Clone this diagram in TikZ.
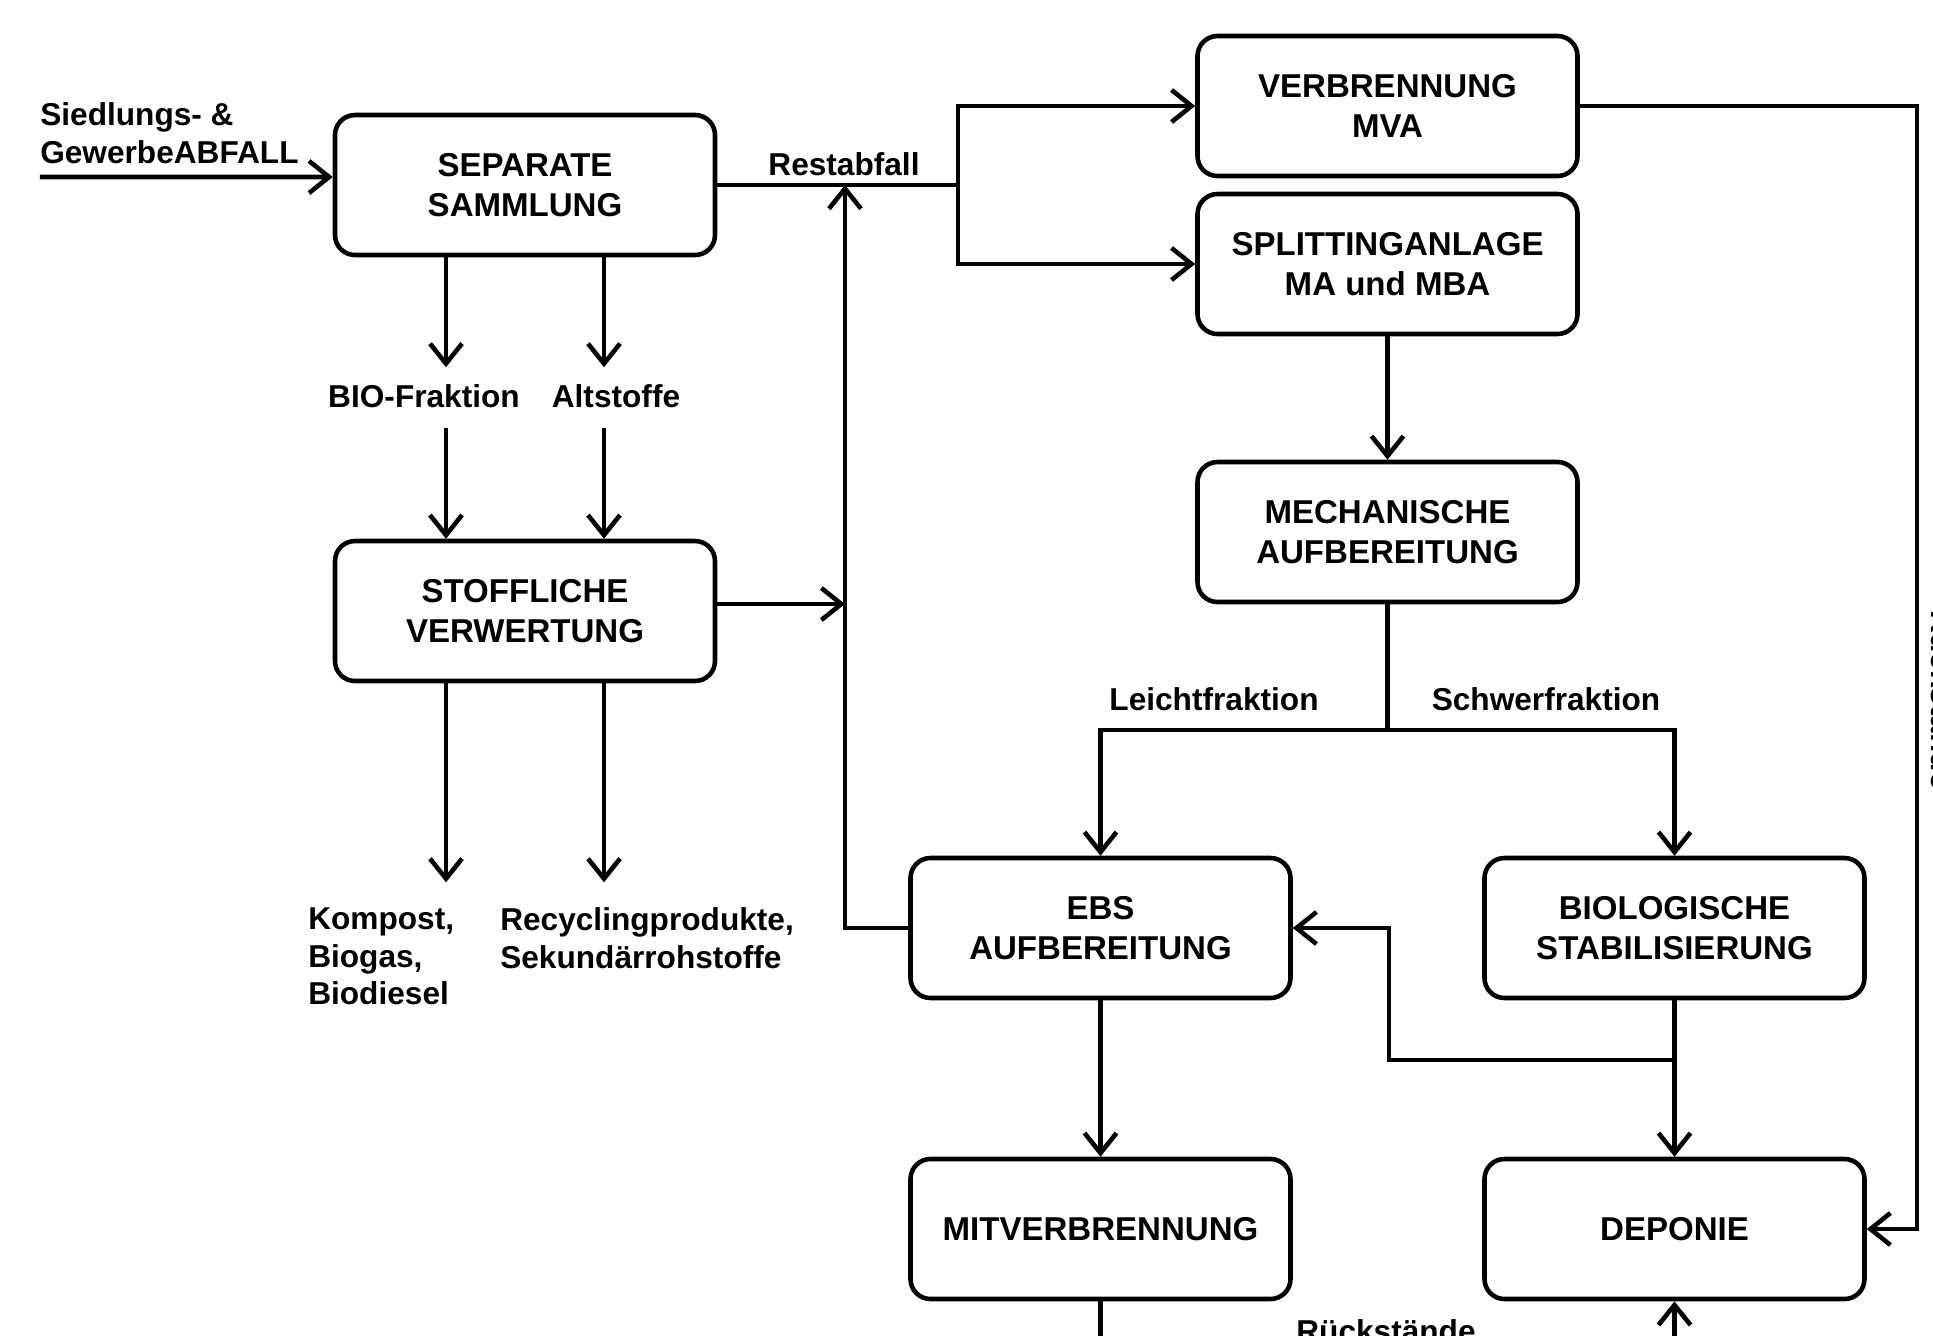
\documentclass[tikz,border=0pt]{standalone}
\usepackage{fontspec}
\setmainfont{Liberation Sans}
\usetikzlibrary{arrows.meta}

\begin{document}
\begin{tikzpicture}[>={Straight Barb[length=2mm,width=3.2mm]},line width=1.3pt,
  box/.style={draw,rounded corners=2mm,minimum width=3.8cm,minimum height=1.4cm,align=center,inner sep=0pt,font=\bfseries\fontsize{9.4}{11.4}\selectfont},
  lbl/.style={inner sep=0pt,font=\bfseries\fontsize{9}{10.8}\selectfont}]
\useasboundingbox (0,0) rectangle (19.33,-13.35);
\node[box] (sep) at (5.25,-1.85) {SEPARATE\\SAMMLUNG};
\node[box] (stoff) at (5.25,-6.11) {STOFFLICHE\\VERWERTUNG};
\node[box] (mva) at (13.875,-1.06) {VERBRENNUNG\\MVA};
\node[box] (split) at (13.875,-2.64) {SPLITTINGANLAGE\\MA und MBA};
\node[box] (mech) at (13.875,-5.32) {MECHANISCHE\\AUFBEREITUNG};
\node[box] (ebs) at (11.005,-9.28) {EBS\\AUFBEREITUNG};
\node[box] (bio) at (16.745,-9.28) {BIOLOGISCHE\\STABILISIERUNG};
\node[box] (mit) at (11.005,-12.29) {MITVERBRENNUNG};
\node[box] (dep) at (16.745,-12.29) {DEPONIE};
\node[lbl,align=left,anchor=north west] (inlbl) at (0.38,-1.00) {Siedlungs- \&\\GewerbeABFALL};
\node[lbl,anchor=base] (rest) at (8.44,-1.75) {Restabfall};
\node[lbl,anchor=base] (biofr) at (4.24,-4.07) {BIO-Fraktion};
\node[lbl,anchor=base] (alt) at (6.16,-4.07) {Altstoffe};
\node[lbl,align=left,anchor=north west] (kompost) at (3.06,-9.05) {Kompost,\\Biogas,\\Biodiesel};
\node[lbl,align=left,anchor=north west] (recyc) at (4.98,-9.05) {Recyclingprodukte,\\Sekundärrohstoffe};
\node[lbl,anchor=base] (leicht) at (12.14,-7.10) {Leichtfraktion};
\node[lbl,anchor=base] (schwer) at (15.46,-7.10) {Schwerfraktion};
\node[lbl,anchor=base] (rueck) at (13.86,-13.42) {Rückstände};
\node[lbl,anchor=base,rotate=-90] (rueckr) at (19.31,-7.00) {Rückstände};
\coordinate (in) at (0.40,-1.77);
\coordinate (rj) at (9.58,-1.85);
\coordinate (rv) at (8.45,-1.85);
\coordinate (rc) at (19.17,0);
\coordinate (fork) at (13.875,-7.30);
\coordinate (br) at (16.745,-10.60);
\draw[->] (in) -- ([yshift=0.08cm]sep.west);
\draw (sep.east) -- (rj);
\draw[->] (rj) |- (mva.west);
\draw[->] (rj) |- (split.west);
\draw[->] ([xshift=-0.79cm]sep.south) -- ++(0,-1.10);
\draw[->] ([xshift=0.79cm]sep.south) -- ++(0,-1.10);
\draw[->] ([xshift=-0.79cm]stoff.north) ++(0,1.11) -- ([xshift=-0.79cm]stoff.north);
\draw[->] ([xshift=0.79cm]stoff.north) ++(0,1.11) -- ([xshift=0.79cm]stoff.north);
\draw[->] ([xshift=-0.79cm]stoff.south) -- ++(0,-1.99);
\draw[->] ([xshift=0.79cm]stoff.south) -- ++(0,-1.99);
\draw[->] ([yshift=0.07cm]stoff.east) -- ([yshift=0.07cm]stoff.east -| rv);
\draw[->] (ebs.west) -| (rv);
\draw[->] (split.south) -- (mech.north);
\draw (mech.south) -- (fork);
\draw[->] (fork) -| (ebs.north);
\draw[->] (fork) -| (bio.north);
\draw[->] (ebs.south) -- (mit.north);
\draw[->] (bio.south) -- (dep.north);
\draw[->] (br) -| (13.89,-9.28) -- (ebs.east);
\draw[->] (mva.east) -- (mva.east -| rc) |- (dep.east);
\draw[->] (mit.south) -- ++(0,-0.8) -| (dep.south);
\end{tikzpicture}
\end{document}
